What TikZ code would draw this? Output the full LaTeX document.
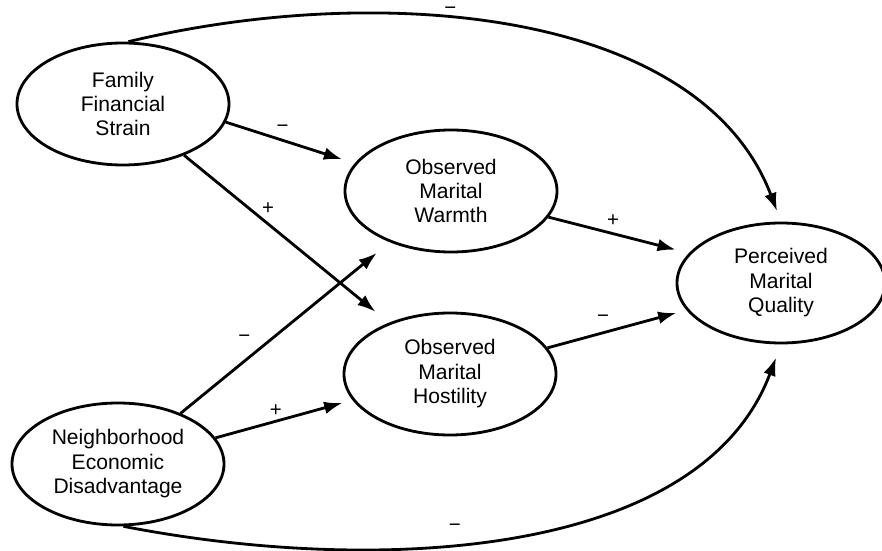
\documentclass[tikz,border=0pt]{standalone}
\usepackage{fontspec}
\setmainfont{Liberation Sans}
\usetikzlibrary{arrows.meta, shapes.geometric}

\begin{document}
\begin{tikzpicture}[
        construct/.style={draw, ellipse, line width=2pt, minimum width=5.3cm, minimum height=3.05cm, inner sep=0pt, align=center, font=\fontsize{15}{17.4}\selectfont},
        effect/.style={-{Latex[length=13pt,width=9pt]}, line width=2pt},
        sign/.style={font=\fontsize{14.5}{14.5}\selectfont, inner sep=2pt}
    ]
        \useasboundingbox (0,0) rectangle (22.05,-13.775);

        \node[construct] (ffs) at (3.075,-2.6) {Family\\Financial\\Strain};
        \node[construct] (ned) at (2.95,-11.6) {Neighborhood\\Economic\\Disadvantage};
        \node[construct] (omw) at (11.275,-4.775) {Observed\\Marital\\Warmth};
        \node[construct] (omh) at (11.25,-9.35) {Observed\\Marital\\Hostility};
        \node[construct, minimum width=5.2cm, minimum height=3cm] (pmq) at (19.525,-7.075) {Perceived\\Marital\\Quality};

        \draw[effect, shorten >=0.33cm] (ffs.-10) -- node[sign, pos=0.44, above=2.5pt] (s1) {−} (omw.164);
        \draw[effect, shorten >=0.43cm] (ffs.-40) -- node[sign, pos=0.41, above=3.5pt] (s2) {+} (omh.140);
        \draw[effect, shorten >=0.42cm] (ned.39) -- node[sign, pos=0.37, above left=2.5pt] (s3) {−} (omw.220);
        \draw[effect, shorten >=0.26cm] (ned.15) -- node[sign, pos=0.44, above=0.5pt] (s4) {+} (omh.195);
        \draw[effect, shorten >=0.34cm] (omw.-15) -- node[sign, pos=0.46, above=2pt] (s5) {+} (pmq.162);
        \draw[effect, shorten >=0.26cm] (omh.15) -- node[sign, pos=0.4, above=4.5pt] (s6) {−} (pmq.196);

        \draw[effect, shorten >=0.28cm] (ffs.85) .. controls (9.45,0.4625) and (17.5,-0.2) .. (pmq.north) node[sign, pos=0.41, above=-0.5pt] (s7) {−};
        \draw[effect, shorten >=0.35cm] (ned.-85) .. controls (9.325,-14.375) and (17.5,-14) .. (pmq.south) node[sign, pos=0.42, above=5.5pt] (s8) {−};
\end{tikzpicture}
\end{document}
